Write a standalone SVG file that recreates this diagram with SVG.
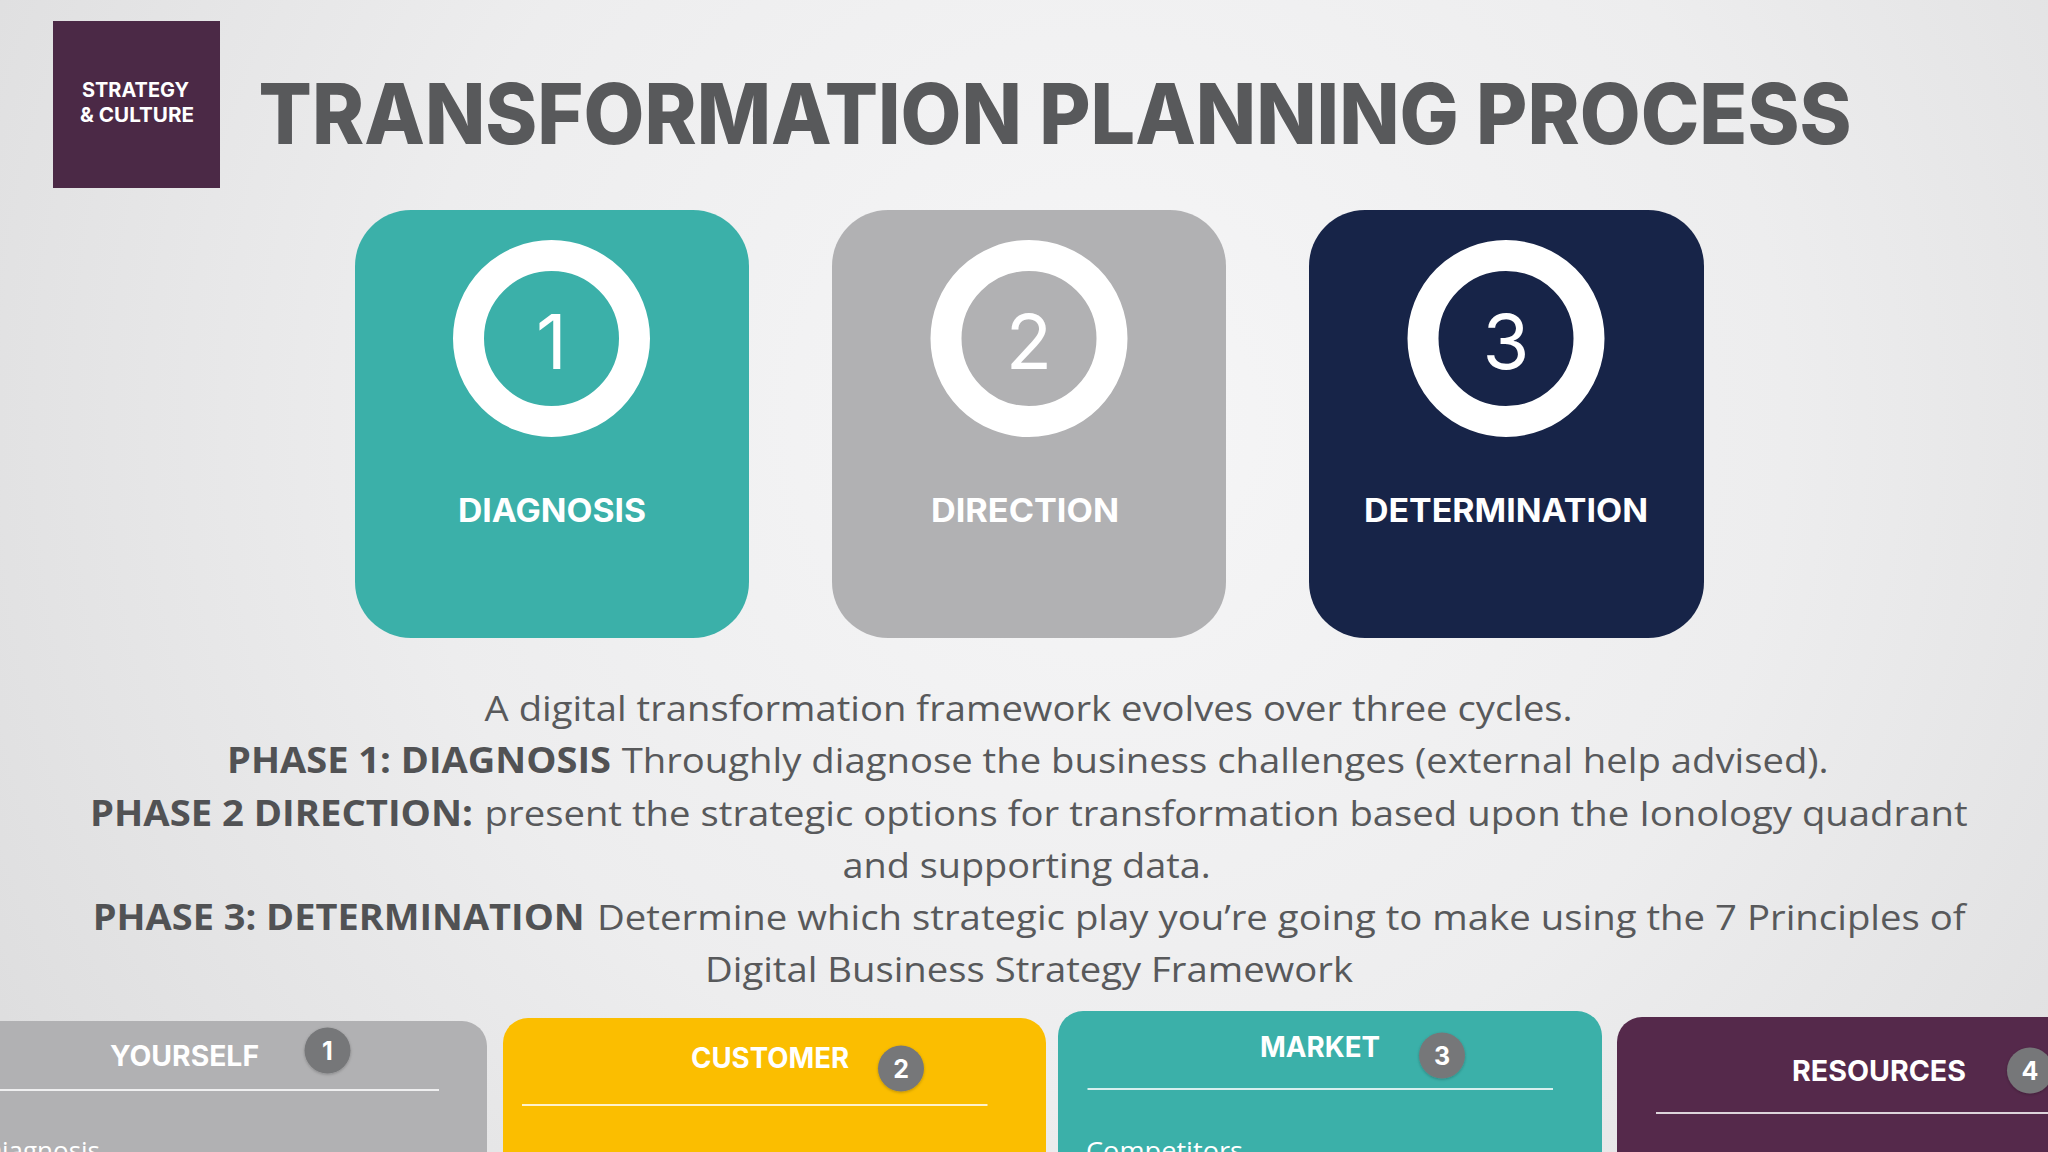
<svg xmlns="http://www.w3.org/2000/svg" width="2048" height="1152" viewBox="0 0 2048 1152">
  <defs>
    <radialGradient id="bg" cx="1100" cy="420" r="1250" gradientUnits="userSpaceOnUse">
      <stop offset="0" stop-color="#f6f6f7"/>
      <stop offset="0.55" stop-color="#ededee"/>
      <stop offset="1" stop-color="#dededf"/>
    </radialGradient>
    <filter id="sh" x="-30%" y="-30%" width="160%" height="160%">
      <feDropShadow dx="0" dy="1" stdDeviation="1.5" flood-color="#000" flood-opacity="0.25"/>
    </filter>
    <style>
      .hd { font-family: Inter, "Liberation Sans", sans-serif; font-weight: 700; fill: #ffffff; }
      .title { font-family: Inter, "Liberation Sans", sans-serif; font-weight: 800; fill: #58595b; font-size: 84px; }
      .num { font-family: Inter, "Liberation Sans", sans-serif; font-weight: 400; fill: #ffffff; font-size: 76px; text-anchor: middle; }
      .lbl { font-family: Inter, "Liberation Sans", sans-serif; font-weight: 700; fill: #ffffff; font-size: 32px; text-anchor: middle; }
      .ring { fill: none; stroke: #ffffff; stroke-width: 31; }
      .body { font-family: "Open Sans", "Liberation Sans", sans-serif; font-size: 35px; fill: #58595b; }
      .b { font-weight: 700; fill: #515254; }
      .ct { font-family: Inter, "Liberation Sans", sans-serif; font-weight: 700; fill: #ffffff; font-size: 28px; }
      .badge { fill: #767779; filter: url(#sh); }
      .bn { font-family: Inter, "Liberation Sans", sans-serif; font-weight: 700; fill: #ffffff; font-size: 25px; text-anchor: middle; }
      .rule { stroke: #ffffff; stroke-opacity: 0.8; stroke-width: 2; }
      .item { font-family: "Open Sans", "Liberation Sans", sans-serif; font-size: 26px; fill: #ffffff; }
    </style>
  </defs>

  <rect x="0" y="0" width="2048" height="1152" fill="url(#bg)"/>

  <g id="logo">
    <rect x="53" y="21" width="167" height="167" fill="#4b2946"/>
    <text class="hd" x="135.5" y="97" font-size="20" text-anchor="middle" textLength="107" lengthAdjust="spacingAndGlyphs">STRATEGY</text>
    <text class="hd" x="137" y="122" font-size="20" text-anchor="middle" textLength="114" lengthAdjust="spacingAndGlyphs">&amp; CULTURE</text>
  </g>

  <g id="title">
    <text class="title" x="258.6" y="143.7" textLength="1593" lengthAdjust="spacingAndGlyphs">TRANSFORMATION PLANNING PROCESS</text>
  </g>

  <g id="phase-1">
    <rect x="355" y="210" width="394" height="428" rx="56" fill="#3bb0a9"/>
    <circle class="ring" cx="551.5" cy="338.5" r="83"/>
    <text class="num" x="551.5" y="369">1</text>
    <text class="lbl" x="552" y="522" textLength="188" lengthAdjust="spacingAndGlyphs">DIAGNOSIS</text>
  </g>

  <g id="phase-2">
    <rect x="832" y="210" width="394" height="428" rx="56" fill="#b1b1b3"/>
    <circle class="ring" cx="1029" cy="338.5" r="83"/>
    <text class="num" x="1029" y="369">2</text>
    <text class="lbl" x="1025" y="522" textLength="188" lengthAdjust="spacingAndGlyphs">DIRECTION</text>
  </g>

  <g id="phase-3">
    <rect x="1309" y="210" width="395" height="428" rx="56" fill="#172448"/>
    <circle class="ring" cx="1506" cy="338.5" r="83"/>
    <text class="num" x="1506" y="369">3</text>
    <text class="lbl" x="1506" y="522" textLength="284" lengthAdjust="spacingAndGlyphs">DETERMINATION</text>
  </g>

  <g id="description">
    <text class="body" x="484.6" y="721" textLength="1088" lengthAdjust="spacingAndGlyphs">A digital transformation framework evolves over three cycles.</text>
    <text class="body b" x="227" y="773" textLength="384" lengthAdjust="spacingAndGlyphs">PHASE 1: DIAGNOSIS</text>
    <text class="body" x="621.7" y="773" textLength="1207" lengthAdjust="spacingAndGlyphs">Throughly diagnose the business challenges (external help advised).</text>
    <text class="body b" x="90" y="825.5" textLength="383" lengthAdjust="spacingAndGlyphs">PHASE 2 DIRECTION:</text>
    <text class="body" x="484.6" y="825.5" textLength="1483" lengthAdjust="spacingAndGlyphs">present the strategic options for transformation based upon the Ionology quadrant</text>
    <text class="body" x="842.4" y="877.7" textLength="368.4" lengthAdjust="spacingAndGlyphs">and supporting data.</text>
    <text class="body b" x="92.7" y="930" textLength="492" lengthAdjust="spacingAndGlyphs">PHASE 3: DETERMINATION</text>
    <text class="body" x="597" y="930" textLength="1368.7" lengthAdjust="spacingAndGlyphs">Determine which strategic play you’re going to make using the 7 Principles of</text>
    <text class="body" x="705" y="982" textLength="648" lengthAdjust="spacingAndGlyphs">Digital Business Strategy Framework</text>
  </g>

  <g id="card-yourself">
    <rect x="-40" y="1021" width="527" height="200" rx="25" fill="#b1b1b3"/>
    <text class="ct" x="110" y="1066" textLength="149" lengthAdjust="spacingAndGlyphs">YOURSELF</text>
    <circle class="badge" cx="327.5" cy="1050.5" r="23"/>
    <text class="bn" x="327.5" y="1059.5">1</text>
    <line class="rule" x1="0" y1="1090" x2="439" y2="1090"/>
    <text class="item" x="100" y="1160" text-anchor="end">Diagnosis</text>
  </g>

  <g id="card-customer">
    <rect x="503" y="1018" width="543" height="200" rx="25" fill="#fbbe00"/>
    <text class="ct" x="691" y="1068" textLength="158" lengthAdjust="spacingAndGlyphs">CUSTOMER</text>
    <circle class="badge" cx="901" cy="1068.5" r="23"/>
    <text class="bn" x="901" y="1077.5">2</text>
    <line class="rule" x1="522" y1="1105" x2="987.5" y2="1105"/>
  </g>

  <g id="card-market">
    <rect x="1058" y="1011" width="544" height="200" rx="25" fill="#3bb0a9"/>
    <text class="ct" x="1260" y="1057" textLength="120" lengthAdjust="spacingAndGlyphs">MARKET</text>
    <circle class="badge" cx="1442" cy="1055.5" r="23"/>
    <text class="bn" x="1442" y="1064.5">3</text>
    <line class="rule" x1="1087.5" y1="1089" x2="1553" y2="1089"/>
    <text class="item" x="1086" y="1160" textLength="157" lengthAdjust="spacingAndGlyphs">Competitors</text>
  </g>

  <g id="card-resources">
    <rect x="1617" y="1017" width="500" height="200" rx="25" fill="#55294b"/>
    <text class="ct" x="1792" y="1081" textLength="174" lengthAdjust="spacingAndGlyphs">RESOURCES</text>
    <circle class="badge" cx="2030" cy="1070.5" r="23"/>
    <text class="bn" x="2030" y="1079.5">4</text>
    <line class="rule" x1="1656" y1="1113" x2="2048" y2="1113"/>
  </g>

  <g id="connectors"/>
</svg>
